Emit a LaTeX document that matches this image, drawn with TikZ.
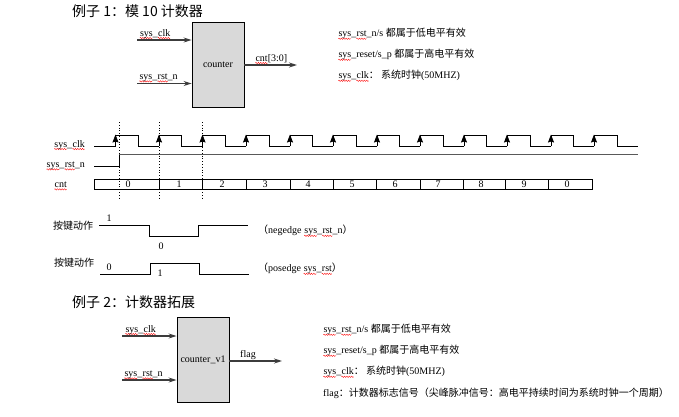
\documentclass[tikz,border=0pt]{standalone}
\usepackage{fontspec}
\usepackage{xcolor}
\usetikzlibrary{arrows.meta, positioning, decorations.pathmorphing}
\setmainfont{Liberation Serif}
\newfontfamily\cjk{Noto Sans CJK SC}
\definecolor{blockgray}{RGB}{217, 217, 217}
\definecolor{busgray}{RGB}{60, 60, 60}
\newsavebox{\wavybox}
\newcommand{\wavy}[1]{\sbox{\wavybox}{#1}\tikz[baseline=0pt, x=1pt, y=1pt]{\draw[red, line width=0.35pt, decorate, decoration={zigzag, segment length=2.4pt, amplitude=0.7pt}] (0,-2) -- (\wd\wavybox,-2);}\llap{\usebox{\wavybox}}}
\newcommand{\zh}[1]{{\cjk\fontsize{10}{10}\selectfont #1}}

\begin{document}
\begin{tikzpicture}[x=1pt, y=-1pt,
                lbl/.style={inner sep=0pt, anchor=west, yshift=-1pt, font=\fontsize{10}{10}\selectfont},
                numlbl/.style={inner sep=0pt, font=\fontsize{10}{10}\selectfont},
                titlelbl/.style={inner sep=0pt, anchor=west, yshift=-1pt, font=\cjk\fontsize{14}{16}\selectfont},
                block/.style={draw, fill=blockgray, line width=0.9pt, inner sep=0pt,
                              minimum width=52pt, minimum height=85pt,
                              font=\fontsize{10}{10}\selectfont},
                sigarrow/.style={-{Stealth[length=8pt, width=5pt]}, line width=1.2pt, busgray},
                wave/.style={line width=0.7pt},
                mark edge/.style={dotted, line width=0.8pt}]
    \useasboundingbox (0,0) rectangle (679,416);

    % example 1
    \node[titlelbl] (title1) at (72,10) {例子 1：模 10 计数器};
    \node[block] (counter) at (218,64.5) {counter};
    \coordinate (clkin) at (137,40);
    \coordinate (rstin) at (137,83.5);
    \coordinate (cntout) at (297,65);
    \draw[sigarrow] (clkin) -- (counter.west |- clkin);
    \draw[sigarrow] (rstin) -- (counter.west |- rstin);
    \draw[sigarrow] (counter.east |- cntout) -- (cntout);
    \node[lbl] (clklbl) at (139.5,33) {\wavy{sys}\_\wavy{clk}};
    \node[lbl] (rstlbl) at (139,77) {\wavy{sys}\_\wavy{rst}\_n};
    \node[lbl] (cntlbl) at (255,58) {\wavy{cnt}[3:0]};

    \node[lbl] (note1a) at (338,33) {\wavy{sys}\_\wavy{rst}\_n/s \zh{都属于低电平有效}};
    \node[lbl] (note1b) at (338,54) {\wavy{sys}\_reset/s\_p \zh{都属于高电平有效}};
    \node[lbl] (note1c) at (338,75) {\wavy{sys}\_\wavy{clk}\zh{： 系统时钟}(50MHZ)};

    % timing
    \node[lbl, anchor=east] (clksig) at (85,144) {\wavy{sys}\_\wavy{clk}};
    \node[lbl, anchor=east] (rstsig) at (85,165) {\wavy{sys}\_\wavy{rst}\_n};
    \node[lbl, anchor=east] (cntsig) at (67,185) {\wavy{cnt}};

    \draw[wave] (94,146) -- (115.5,146);
    \foreach \r/\f/\n in {115.5/138/159, 159/181/202.5, 202.5/225/246, 246/269/290, 290/312/333,
                          333/356/377, 377/399/420, 420/443/464, 464/486/507, 507/530/551,
                          551/573/594, 594/617/638}{
        \draw[wave] (\r,146) -- (\r,135) -- (\f,135) -- (\f,146) -- (\n,146);
        \draw[-{Stealth[length=8pt, width=6pt, inset=1pt]}, wave] (\r,146) -- (\r,134.5);
    }

    \draw[wave] (94,166) -- (119,166) -- (119,154);
    \draw[line width=1pt, gray!70!black] (119,154) -- (638,154);

    \draw[wave] (94,179) rectangle (592,189);
    \foreach \x in {159.5,202.5,246,290,333,376,420,463,505,548}{
        \draw[wave] (\x,179) -- (\x,189);
    }
    \foreach \x/\v in {128/0,179/1,222/2,265/3,308/4,352/5,395/6,438/7,481/8,524/9,567/0}{
        \node[numlbl] (cnt\x) at (\x,184.5) {\v};
    }
    \foreach \x in {119,159.5,202.5}{
        \draw[mark edge] (\x,122) -- (\x,199);
    }

    % key action
    \node[lbl] (key1) at (53,224.5) {\zh{按键动作}};
    \node[numlbl] (key1hi) at (109,218) {1};
    \node[numlbl] (key1lo) at (161,246) {0};
    \draw[wave] (99,225) -- (149,225) -- (149,236) -- (198,236) -- (198,225) -- (248,225);
    \node[lbl] (negedgelbl) at (258,230) {\zh{（}negedge \wavy{sys}\_\wavy{rst}\_n\zh{）}};

    \node[lbl] (key2) at (54,262) {\zh{按键动作}};
    \node[numlbl] (key2lo) at (109,267) {0};
    \node[numlbl] (key2hi) at (160,273.5) {1};
    \draw[wave] (100,274) -- (150,274) -- (150,263) -- (199,263) -- (199,274) -- (249,274);
    \node[lbl] (posedgelbl) at (258,268) {\zh{（}posedge \wavy{sys}\_\wavy{rst}\zh{）}};

    % example 2
    \node[titlelbl] (title2) at (72,301) {例子 2：计数器拓展};
    \node[block] (counterv) at (203,360) {counter\_v1};
    \coordinate (vclkin) at (122,336);
    \coordinate (vrstin) at (122,380);
    \coordinate (flagout) at (282,361);
    \draw[sigarrow] (vclkin) -- (counterv.west |- vclkin);
    \draw[sigarrow] (vrstin) -- (counterv.west |- vrstin);
    \draw[sigarrow] (counterv.east |- flagout) -- (flagout);
    \node[lbl] (vclklbl) at (125,329) {\wavy{sys}\_\wavy{clk}};
    \node[lbl] (vrstlbl) at (124,374) {\wavy{sys}\_\wavy{rst}\_n};
    \node[lbl] (flaglbl) at (240,354) {flag};

    \node[lbl] (note2a) at (323,329) {\wavy{sys}\_\wavy{rst}\_n/s \zh{都属于低电平有效}};
    \node[lbl] (note2b) at (323,350) {\wavy{sys}\_reset/s\_p \zh{都属于高电平有效}};
    \node[lbl] (note2c) at (323,371) {\wavy{sys}\_\wavy{clk}\zh{： 系统时钟}(50MHZ)};
    \node[lbl] (note2d) at (323,392) {flag\zh{：计数器标志信号（尖峰脉冲信号：高电平持续时间为系统时钟一个周期）}};
\end{tikzpicture}
\end{document}
